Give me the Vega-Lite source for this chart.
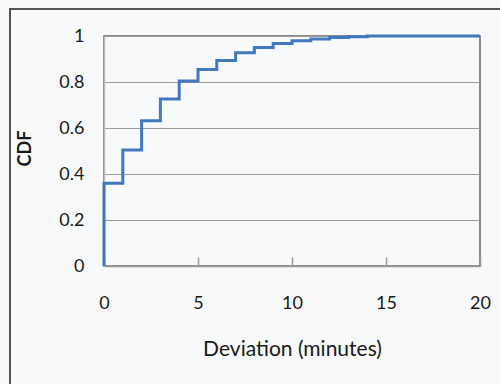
{
  "$schema": "https://vega.github.io/schema/vega-lite/v6.json",
  "width": 376,
  "height": 230,
  "autosize": {"type": "none"},
  "padding": {"left": 104, "top": 36, "right": 20, "bottom": 118},
  "background": "#f8f9fb",
  "config": {
    "view": {"stroke": "#666666", "strokeWidth": 1.5},
    "font": "Lato"
  },
  "layer": [
    {
      "data": {"values": [{"x1": -5, "x2": 28, "y1": -0.7, "y2": 1.117}]},
      "mark": {"type": "rect", "fill": null, "stroke": "#555555", "strokeWidth": 2, "clip": false},
      "encoding": {
        "x": {"field": "x1", "type": "quantitative", "scale": {"domain": [0, 20], "nice": false}},
        "x2": {"field": "x2"},
        "y": {"field": "y1", "type": "quantitative", "scale": {"domain": [0, 1], "nice": false}},
        "y2": {"field": "y2"}
      }
    },
    {
      "data": {"values": [
        {"i": 0, "dev": 0, "cdf": 0},
        {"i": 1, "dev": 0, "cdf": 0.36},
        {"i": 2, "dev": 1, "cdf": 0.504},
        {"i": 3, "dev": 2, "cdf": 0.632},
        {"i": 4, "dev": 3, "cdf": 0.726},
        {"i": 5, "dev": 4, "cdf": 0.804},
        {"i": 6, "dev": 5, "cdf": 0.854},
        {"i": 7, "dev": 6, "cdf": 0.894},
        {"i": 8, "dev": 7, "cdf": 0.927},
        {"i": 9, "dev": 8, "cdf": 0.95},
        {"i": 10, "dev": 9, "cdf": 0.967},
        {"i": 11, "dev": 10, "cdf": 0.979},
        {"i": 12, "dev": 11, "cdf": 0.987},
        {"i": 13, "dev": 12, "cdf": 0.993},
        {"i": 14, "dev": 13, "cdf": 0.997},
        {"i": 15, "dev": 14, "cdf": 1.0},
        {"i": 16, "dev": 20, "cdf": 1.0}
      ]},
      "mark": {"type": "line", "interpolate": "step-after", "color": "#4278be", "strokeWidth": 3, "clip": false},
      "encoding": {
        "order": {"field": "i", "type": "quantitative"},
        "x": {
          "field": "dev", "type": "quantitative",
          "scale": {"domain": [0, 20], "nice": false},
          "axis": {
            "values": [0, 5, 10, 15, 20],
            "grid": false,
            "domainColor": "#999999",
            "domainWidth": 1.5,
            "tickColor": "#999999",
            "tickWidth": 1.5,
            "tickSize": -9,
            "labelPadding": 46,
            "labelFlush": false,
            "labelBaseline": "middle",
            "labelFontSize": 18,
            "labelColor": "#1a1a1a",
            "title": "Deviation (minutes)",
            "titleFontSize": 21,
            "titleFontWeight": "normal",
            "titleColor": "#1a1a1a",
            "titleX": 188,
            "titleY": 83,
            "titleBaseline": "middle"
          }
        },
        "y": {
          "field": "cdf", "type": "quantitative",
          "scale": {"domain": [0, 1], "nice": false},
          "axis": {
            "values": [0, 0.2, 0.4, 0.6, 0.8, 1],
            "format": "~g",
            "grid": true,
            "gridColor": "#999999",
            "gridWidth": 1.2,
            "gridOpacity": 1,
            "domainColor": "#bbbbbb",
            "domainWidth": 1.5,
            "ticks": false,
            "labelPadding": 20,
            "labelFontSize": 18,
            "labelColor": "#1a1a1a",
            "labelBaseline": "middle",
            "title": "CDF",
            "titleFontSize": 18,
            "titleFontWeight": "bold",
            "titleColor": "#1a1a1a",
            "titleX": -79,
            "titleY": 112,
            "titleBaseline": "middle",
            "titleAngle": -90
          }
        }
      }
    }
  ]
}
